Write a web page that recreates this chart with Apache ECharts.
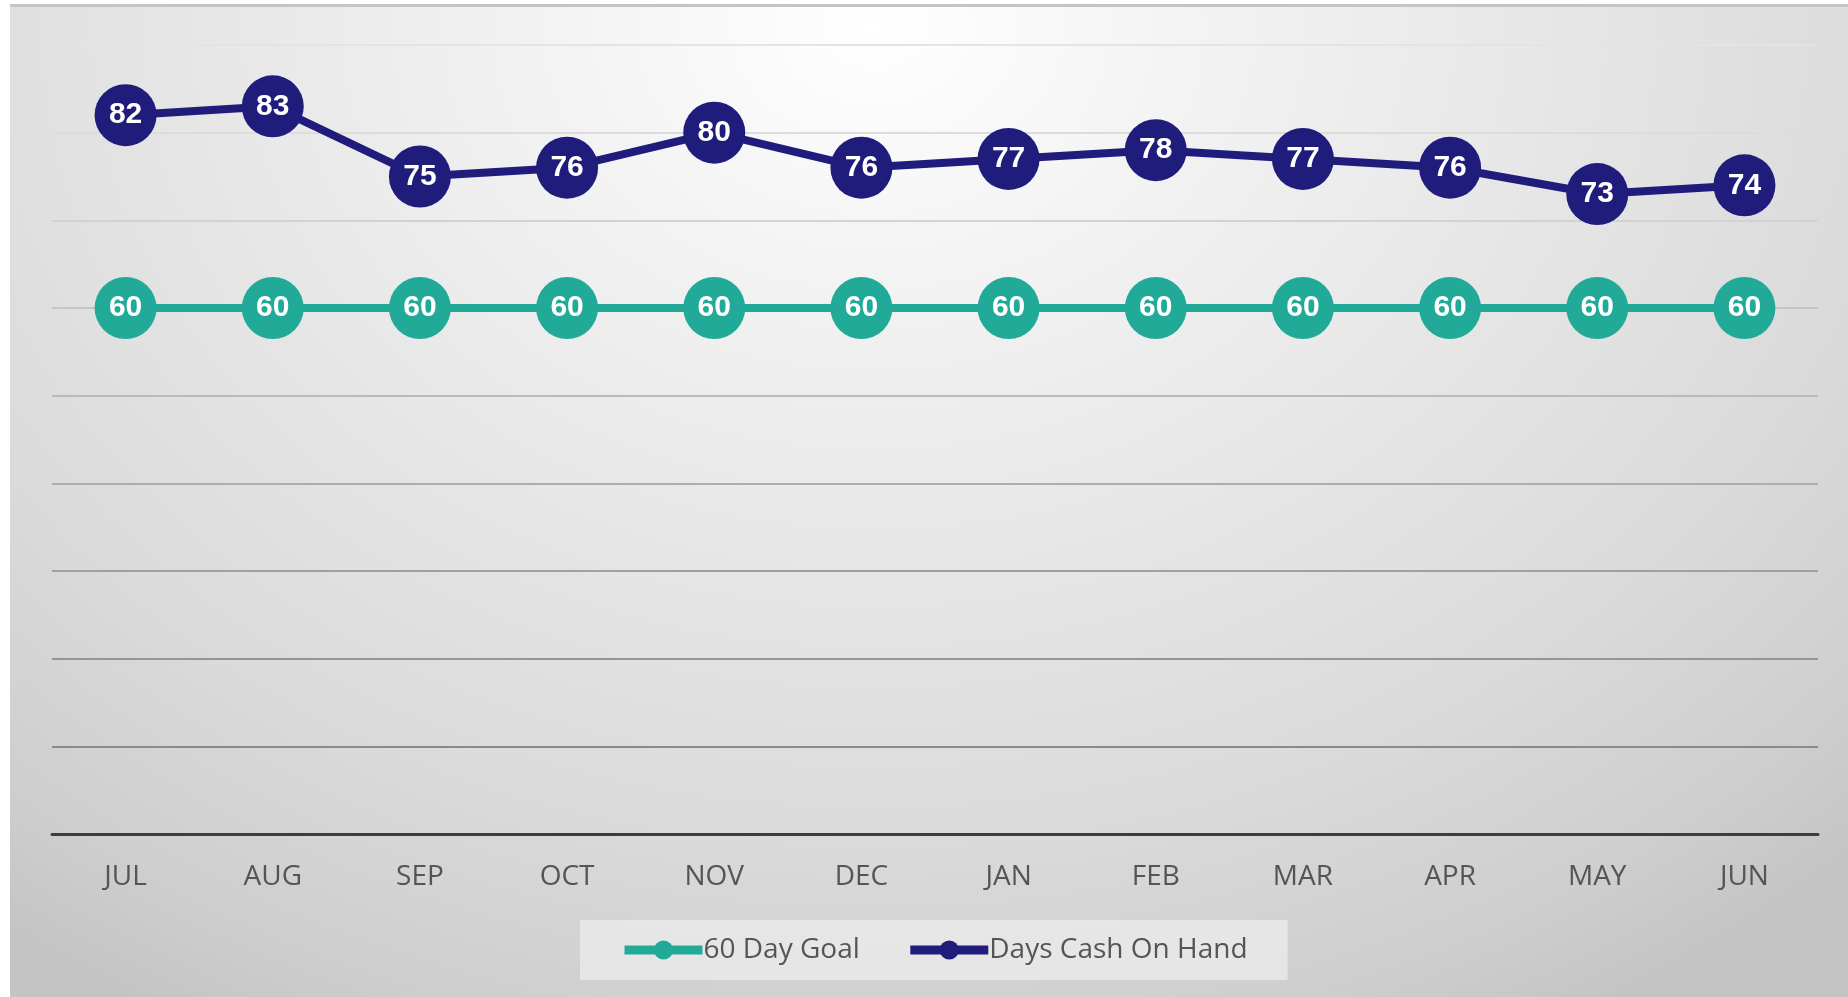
<!DOCTYPE html>
<html>
<head>
<meta charset="utf-8">
<script src="https://cdn.jsdelivr.net/npm/echarts@6/dist/echarts.min.js"></script>
<style>
  html, body { margin: 0; padding: 0; background: #ffffff; }
  #panel {
    position: absolute; left: 10px; top: 4px; width: 1838px; height: 990px;
    border-top: 3px solid #c4c4c4;
    background: radial-gradient(ellipse 78% 115% at 47% 2%, #ffffff 0%, #f4f4f4 20%, #e6e6e6 48%, #dadada 72%, #cecece 90%, #c4c4c4 100%);
  }
  #chart { position: absolute; left: 0; top: 0; width: 1848px; height: 997px; }
</style>
</head>
<body>
<div id="panel"></div>
<div id="chart"></div>
<script>
// Monthly days of cash on hand against the 60-day target
const months = ['JUL', 'AUG', 'SEP', 'OCT', 'NOV', 'DEC', 'JAN', 'FEB', 'MAR', 'APR', 'MAY', 'JUN'];
const goalDays = [60, 60, 60, 60, 60, 60, 60, 60, 60, 60, 60, 60];
const cashDays = [82, 83, 75, 76, 80, 76, 77, 78, 77, 76, 73, 74];
// gridline shades from 0 up to 90 (darker near the bottom)
const gridShades = ['#8c8c8c', '#8a8a8a', '#959595', '#a0a0a0', '#adadad', '#bababa', '#c6c6c6', '#d2d2d2', '#dcdcdc', '#e4e4e4'];

const NAVY = '#1f1c7c';
const TEAL = '#22aa98';

const chart = echarts.init(document.getElementById('chart'), null, { renderer: 'canvas' });

function lineSeries(name, data, color) {
  return {
    name: name,
    type: 'line',
    data: data,
    symbol: 'circle',
    symbolSize: 62,
    lineStyle: { color: color, width: 8 },
    itemStyle: { color: color },
    label: {
      show: true,
      position: 'inside',
      color: '#ffffff',
      fontFamily: '"Liberation Sans", Arial, sans-serif',
      fontWeight: 'bold',
      fontSize: 30
    },
    emphasis: { disabled: true },
    z: 3
  };
}

chart.setOption({
  animation: false,
  backgroundColor: 'transparent',
  grid: { left: 52, right: 30, top: 45, bottom: 163, containLabel: false },
  xAxis: {
    type: 'category',
    data: months,
    boundaryGap: true,
    axisLine: { show: true, lineStyle: { color: '#3d3d3d', width: 3 } },
    axisTick: { show: false },
    axisLabel: {
      color: '#555555',
      fontFamily: '"Open Sans", "Noto Sans", sans-serif',
      fontSize: 28,
      margin: 29
    },
    splitLine: { show: false }
  },
  yAxis: {
    type: 'value',
    min: 0,
    max: 90,
    interval: 10,
    axisLine: { show: false },
    axisTick: { show: false },
    axisLabel: { show: false },
    splitLine: { show: true, lineStyle: { color: gridShades, width: 2 } }
  },
  legend: {
    data: ['60 Day Goal', 'Days Cash On Hand'],
    left: 580,
    top: 920,
    orient: 'horizontal',
    backgroundColor: 'rgba(236,236,236,0.75)',
    padding: [15, 40, 15, 40],
    itemWidth: 78,
    itemHeight: 24,
    itemGap: 46,
    lineStyle: { width: 9 },
    textStyle: {
      color: '#555555',
      fontFamily: '"Open Sans", "Noto Sans", sans-serif',
      fontSize: 28,
      lineHeight: 30,
      padding: [0, 0, 0, -4]
    },
    selectedMode: false
  },
  series: [
    lineSeries('60 Day Goal', goalDays, TEAL),
    lineSeries('Days Cash On Hand', cashDays, NAVY)
  ]
});
</script>
</body>
</html>
